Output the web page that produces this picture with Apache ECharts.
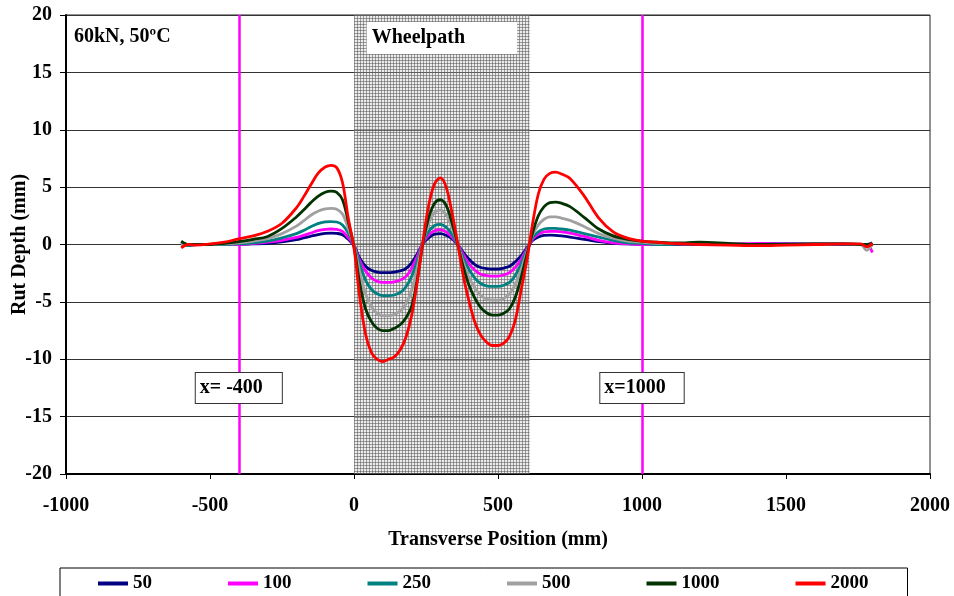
<!DOCTYPE html>
<html>
<head>
<meta charset="utf-8">
<script src="https://cdn.jsdelivr.net/npm/echarts@6/dist/echarts.min.js"></script>
<style>
  html, body { margin: 0; padding: 0; background: #fff; }
  #chart { width: 954px; height: 596px; }
</style>
</head>
<body>
<div id="chart"></div>
<script>
// Transverse positions (mm) shared by every profile
const positions = [
  -600, -575, -550, -500, -450, -400, -350, -300, -250, -200,
  -175, -150, -125, -100,
  -80, -60, -40, -20, 0, 20, 40, 60, 80, 100, 120, 140, 160, 180, 200,
  220, 240, 260, 280, 300, 320, 340, 360, 380, 400, 420, 440, 460, 480, 500,
  520, 540, 560, 580, 600, 620, 640, 660, 680, 700, 720,
  750, 800, 850, 900, 950, 1000,
  1050, 1100, 1150, 1200,
  1300, 1400, 1500, 1600, 1700,
  1760, 1780, 1800
];

// Rut depth (mm) after N load passes
const rut50 = [
  0.2, -0.05, 0.0, 0.0, 0.0, 0.0, 0.05, 0.1, 0.22, 0.42,
  0.57, 0.72, 0.87, 0.97,
  1.0, 0.97, 0.85, 0.45, -0.1, -1.2, -1.9, -2.25, -2.4, -2.45, -2.45, -2.4, -2.3, -2.1, -1.6,
  -0.8, 0.1, 0.6, 0.9, 0.95, 0.8, 0.5, 0.0, -0.7, -1.3, -1.75, -2.0, -2.1, -2.15, -2.15,
  -2.05, -1.9, -1.5, -1.0, -0.3, 0.35, 0.65, 0.8, 0.82, 0.8, 0.75,
  0.65, 0.45, 0.25, 0.1, 0.05, 0.0,
  0.0, 0.0, 0.0, 0.0,
  0.0, 0.0, 0.05, 0.05, 0.0,
  0.0, 0.0, 0.15
];
const rut100 = [
  0.0, 0.0, 0.0, 0.0, 0.0, 0.0, 0.1, 0.2, 0.37, 0.62,
  0.8, 1.0, 1.2, 1.32,
  1.35, 1.32, 1.15, 0.6, -0.1, -1.4, -2.3, -2.9, -3.2, -3.3, -3.3, -3.25, -3.1, -2.8, -2.1,
  -1.0, 0.15, 0.85, 1.2, 1.3, 1.1, 0.65, 0.0, -0.9, -1.7, -2.25, -2.6, -2.7, -2.75, -2.75,
  -2.65, -2.45, -2.0, -1.3, -0.4, 0.45, 0.9, 1.1, 1.15, 1.15, 1.1,
  1.0, 0.7, 0.35, 0.15, 0.05, 0.0,
  0.0, 0.05, 0.05, 0.05,
  0.05, 0.1, 0.1, 0.1, 0.05,
  0.0, 0.0, -0.7
];
const rut250 = [
  0.0, -0.1, 0.0, 0.0, 0.0, 0.05, 0.15, 0.3, 0.58, 0.95,
  1.22, 1.55, 1.82, 1.97,
  2.0, 1.96, 1.7, 1.0, -0.1, -1.7, -3.1, -3.9, -4.3, -4.45, -4.45, -4.4, -4.2, -3.7, -2.8,
  -1.4, 0.2, 1.15, 1.65, 1.75, 1.5, 0.9, 0.0, -1.2, -2.2, -2.95, -3.4, -3.6, -3.65, -3.65,
  -3.55, -3.3, -2.7, -1.7, -0.5, 0.6, 1.1, 1.35, 1.4, 1.4, 1.35,
  1.25, 0.95, 0.65, 0.35, 0.15, 0.1,
  0.0, 0.0, 0.05, 0.05,
  0.0, 0.0, 0.05, 0.05, 0.05,
  0.0, -0.1, 0.1
];
const rut500 = [
  0.0, 0.0, 0.0, 0.0, 0.05, 0.15, 0.3, 0.52, 0.95, 1.6,
  2.05, 2.55, 2.9, 3.1,
  3.15, 3.08, 2.65, 1.4, -0.1, -2.4, -4.3, -5.4, -6.0, -6.2, -6.2, -6.1, -5.8, -5.2, -4.0,
  -2.0, 0.2, 1.9, 2.8, 3.0, 2.6, 1.5, 0.0, -1.6, -2.9, -3.8, -4.45, -4.75, -4.85, -4.85,
  -4.7, -4.3, -3.5, -2.2, -0.7, 0.8, 1.7, 2.2, 2.4, 2.4, 2.3,
  2.1, 1.55, 0.95, 0.55, 0.3, 0.2,
  0.1, 0.1, 0.05, 0.05,
  0.0, 0.0, 0.0, 0.05, 0.05,
  0.0, -0.5, 0.0
];
const rut1000 = [
  0.3, 0.0, 0.0, 0.0, 0.1, 0.25, 0.45, 0.7, 1.4, 2.4,
  3.0, 3.65, 4.2, 4.55,
  4.65, 4.55, 3.9, 2.0, -0.2, -3.4, -5.6, -6.7, -7.3, -7.5, -7.5, -7.3, -7.0, -6.4, -5.4,
  -3.0, 0.2, 2.4, 3.6, 3.9, 3.4, 1.9, 0.0, -2.0, -3.6, -4.7, -5.5, -5.95, -6.15, -6.15,
  -6.0, -5.6, -4.6, -2.9, -0.9, 1.0, 2.5, 3.3, 3.65, 3.7, 3.6,
  3.3, 2.35, 1.35, 0.75, 0.45, 0.3,
  0.2, 0.15, 0.15, 0.2,
  0.1, 0.0, 0.0, 0.05, 0.05,
  0.0, 0.0, 0.0
];
const rut2000 = [
  -0.3, 0.0, -0.05, 0.05, 0.2, 0.5, 0.75, 1.15, 1.85, 3.2,
  4.15, 5.2, 6.2, 6.75,
  6.9, 6.7, 5.4, 2.3, -0.3, -4.6, -7.8, -9.4, -10.0, -10.2, -10.0, -9.8, -9.2, -8.1, -6.2,
  -3.2, 0.4, 3.5, 5.3, 5.8, 5.0, 2.8, 0.1, -2.8, -5.0, -6.8, -7.9, -8.5, -8.8, -8.8,
  -8.6, -8.0, -6.6, -4.0, -1.4, 1.8, 4.4, 5.7, 6.2, 6.3, 6.15,
  5.75, 4.2, 2.3, 1.1, 0.55, 0.3,
  0.2, 0.1, 0.05, 0.0,
  -0.05, -0.1, -0.05, 0.0, 0.05,
  0.05, -0.2, 0.1
];

const seriesNames = ['50', '100', '250', '500', '1000', '2000'];
const seriesValues = [rut50, rut100, rut250, rut500, rut1000, rut2000];
const seriesColors = ['#000080', '#ff00ff', '#008080', '#a0a0a0', '#003300', '#ff0000'];

// Wheelpath extent and reference sections (mm)
const wheelpathFrom = 0;
const wheelpathTo = 610;
const sectionLines = [-400, 1000];
const sectionLabels = ['x= -400', 'x=1000'];

const FONT = '"Liberation Serif", "Times New Roman", serif';
const FS = 20;

// Fine stipple used for the wheelpath band
function stipple() {
  const c = document.createElement('canvas');
  c.width = 3; c.height = 3;
  const g = c.getContext('2d');
  g.fillStyle = 'rgba(200,200,200,0.35)';
  g.fillRect(0, 0, 3, 3);
  g.fillStyle = 'rgba(90,90,90,0.55)';
  g.fillRect(0, 0, 3, 1);
  g.fillRect(0, 0, 1, 3);
  return c;
}

const chart = echarts.init(document.getElementById('chart'), null, { renderer: 'canvas' });

const series = seriesNames.map((name, i) => {
  const s = {
    name: name,
    type: 'line',
    data: positions.map((x, k) => [x, seriesValues[i][k]]),
    showSymbol: false,
    symbol: 'none',
    smooth: 0.35,
    lineStyle: { color: seriesColors[i], width: 2.8 },
    itemStyle: { color: seriesColors[i] },
    z: 3 + i
  };
  if (i === 0) {
    s.markArea = {
      silent: true,
      itemStyle: { color: { image: stipple(), repeat: 'repeat' } },
      data: [[{ xAxis: wheelpathFrom }, { xAxis: wheelpathTo }]]
    };
  }
  return s;
});

const boxLabel = (text, pad, border) => ({
  show: true, position: 'inside', formatter: text,
  color: '#000', fontFamily: FONT, fontWeight: 'bold', fontSize: FS,
  backgroundColor: '#fff',
  borderColor: border ? '#333' : 'transparent', borderWidth: border ? 1 : 0,
  padding: pad
});

// Reference section lines and annotation boxes, drawn above the profiles
series.push({
  name: 'sections',
  type: 'line',
  data: [],
  z: 10,
  markLine: {
    silent: true,
    symbol: 'none',
    label: { show: false },
    lineStyle: { color: '#ff00ff', width: 2.5, type: 'solid' },
    data: sectionLines.map(x => ({ xAxis: x }))
  },
  markPoint: {
    silent: true,
    symbol: 'rect',
    symbolSize: 0,
    data: [
      { coord: [sectionLines[0], -12.5], label: boxLabel(sectionLabels[0], [5, 19, 5, 4], true) },
      { coord: [sectionLines[1], -12.5], label: boxLabel(sectionLabels[1], [5, 18, 5, 4], true) },
      { coord: [305, 18], label: boxLabel('Wheelpath', [6, 52, 6, 5], false) }
    ]
  }
});

chart.setOption({
  animation: false,
  backgroundColor: '#fff',
  grid: {
    left: 66, right: 24, top: 15, bottom: 122,
    containLabel: false,
    outerBoundsMode: 'none',
    show: true, borderColor: '#222', borderWidth: 1, backgroundColor: 'transparent'
  },
  legend: {
    data: seriesNames,
    left: 60, top: 568,
    padding: [6, 39, 30, 38],
    itemGap: 76,
    itemWidth: 30, itemHeight: 4,
    icon: 'rect',
    backgroundColor: '#fff',
    borderColor: '#000', borderWidth: 1,
    textStyle: { color: '#000', fontFamily: FONT, fontWeight: 'bold', fontSize: 19 }
  },
  xAxis: {
    type: 'value',
    min: -1000, max: 2000, interval: 500,
    name: 'Transverse Position (mm)',
    nameLocation: 'middle', nameGap: 56,
    nameTextStyle: { color: '#000', fontFamily: FONT, fontWeight: 'bold', fontSize: FS },
    axisLine: { onZero: false, lineStyle: { color: '#000', width: 2 } },
    axisTick: { inside: false, length: 5, lineStyle: { color: '#000' } },
    axisLabel: {
      color: '#000', fontFamily: FONT, fontWeight: 'bold', fontSize: FS, margin: 22,
      formatter: v => String(v)
    },
    splitLine: { show: false }
  },
  yAxis: {
    type: 'value',
    min: -20, max: 20, interval: 5,
    name: 'Rut Depth (mm)',
    nameLocation: 'middle', nameGap: 36,
    nameMoveOverlap: false,
    nameTextStyle: { color: '#000', fontFamily: FONT, fontWeight: 'bold', fontSize: FS },
    axisLine: { onZero: false, lineStyle: { color: '#000', width: 2 } },
    axisTick: { inside: false, length: 6, lineStyle: { color: '#000' } },
    axisLabel: {
      color: '#000', fontFamily: FONT, fontWeight: 'bold', fontSize: FS, margin: 14,
      formatter: v => String(v)
    },
    splitLine: { show: true, lineStyle: { color: '#333', width: 1 } }
  },
  graphic: [
    {
      type: 'text',
      left: 74, top: 27,
      z: 20,
      style: {
        text: '60kN, 50ºC',
        fill: '#000',
        font: 'bold ' + FS + 'px ' + FONT
      }
    }
  ],
  series: series
});
</script>
</body>
</html>
